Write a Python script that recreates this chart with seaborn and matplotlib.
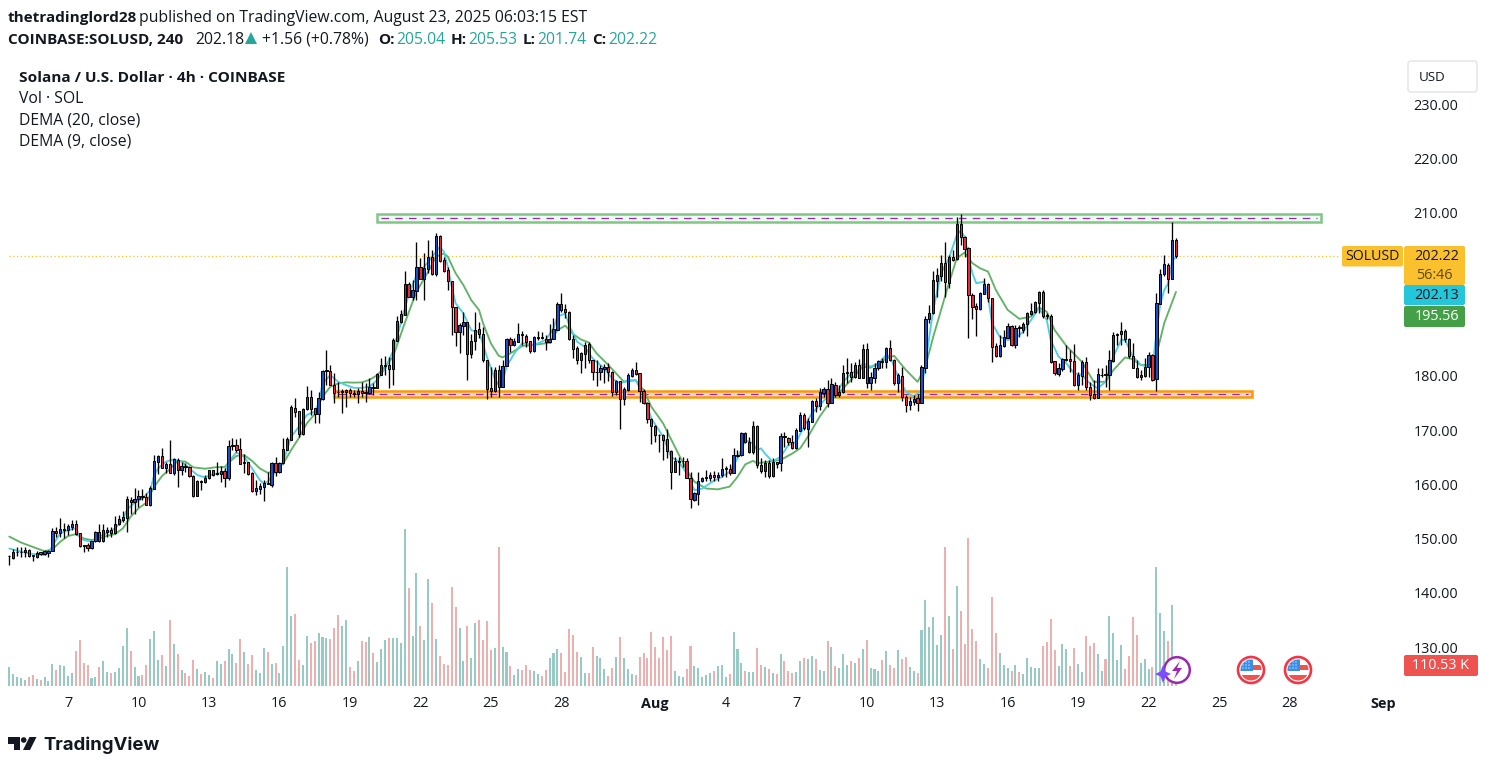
import numpy as np
import pandas as pd
import matplotlib
matplotlib.use("Agg")
import matplotlib.pyplot as plt
from matplotlib.patches import Rectangle, FancyBboxPatch, Circle, Polygon
import seaborn as sns

FONT = "Open Sans"
sns.set_theme(style="white")
plt.rcParams["font.family"] = [FONT, "DejaVu Sans"]

# ---------- candle data (USD) ----------
body_top = [
147.0,147.6,147.7,147.7,148.1,148.1,147.1,147.5,147.6,147.9,
147.9,151.5,151.45,151.9,151.9,152.4,152.75,152.75,151.1,148.9,
148.9,149.6,151.3,151.3,151.65,151.75,151.65,152.9,153.65,154.1,
157.4,157.15,157.35,157.9,158.0,157.7,159.45,164.4,165.35,165.25,
163.85,163.85,164.8,164.55,163.5,163.5,163.25,161.65,160.75,160.75,
161.2,162.7,162.7,162.15,162.5,162.5,167.1,167.35,167.3,166.55,
164.15,164.15,162.15,159.4,159.85,160.3,160.3,164.05,164.0,164.0,
166.6,168.45,174.3,174.15,173.55,174.0,176.15,176.15,174.1,175.95,
180.95,181.2,180.95,178.5,177.2,177.25,177.45,177.45,177.0,177.35,
177.35,177.05,178.0,178.05,180.4,182.05,182.1,182.05,186.7,190.2,
191.5,197.0,197.0,195.9,200.1,200.1,199.95,201.9,201.9,205.85,
205.85,201.45,199.6,197.55,192.7,189.45,190.0,190.0,186.5,188.5,
188.65,187.9,182.95,177.8,181.1,181.15,182.0,186.8,186.8,186.5,
187.75,187.75,187.45,186.45,187.2,187.2,187.2,186.95,186.95,188.65,
193.25,193.25,192.4,191.95,186.95,185.2,184.3,185.85,185.9,182.95,
180.9,181.5,181.65,181.65,180.75,179.1,179.1,177.6,180.2,181.1,
181.1,180.55,177.25,175.15,172.1,170.9,169.3,169.15,168.4,166.3,
164.45,164.4,164.45,164.35,161.35,158.5,160.8,161.3,161.45,161.9,
161.85,161.9,162.9,163.05,163.0,165.45,165.55,169.5,169.5,167.85,
170.85,170.85,163.7,164.0,164.0,164.15,164.15,169.0,169.0,168.7,
167.95,170.15,172.8,172.8,171.8,175.4,175.4,177.05,177.6,177.6,
178.55,178.4,177.2,180.55,180.75,180.75,182.05,182.05,185.05,185.05,
179.85,181.5,182.8,182.85,185.15,185.15,182.95,180.25,180.0,176.25,
175.45,175.85,175.95,181.75,190.5,191.6,197.7,198.6,200.85,200.85,
202.05,202.05,208.05,208.05,205.6,203.6,195.0,192.95,195.3,196.95,
196.95,194.4,185.6,185.7,187.2,189.3,189.3,188.85,189.05,189.6,
191.6,192.0,193.65,195.5,195.5,191.25,191.05,182.8,181.5,183.2,
183.15,183.15,182.9,180.25,182.65,182.6,178.0,176.7,180.4,180.3,
180.4,182.95,187.6,187.85,188.3,188.3,186.8,183.8,181.55,180.25,
181.8,183.95,183.9,193.45,198.85,200.65,200.5,205.1,205.04]

body_bottom = [
146.85,146.6,147.6,147.6,147.65,147.0,146.85,146.8,147.35,147.3,
147.4,147.9,151.1,151.2,151.75,151.7,152.2,150.95,148.8,148.75,
148.4,148.4,149.6,149.75,149.75,151.4,151.2,151.2,152.8,153.55,
153.95,156.9,156.85,157.35,157.7,156.35,156.35,159.3,164.3,163.2,
163.2,162.25,162.25,162.8,162.8,163.25,161.6,158.05,158.05,160.6,
160.6,161.2,161.9,162.0,162.1,161.2,161.2,167.25,166.5,163.9,
164.05,162.1,158.95,158.95,159.3,159.7,160.1,160.05,162.45,162.45,
164.0,166.5,168.35,173.5,169.45,169.45,174.0,174.05,173.1,173.1,
175.85,181.0,178.45,177.0,177.05,177.1,177.1,177.0,176.75,176.7,
177.0,176.95,177.0,177.9,177.9,180.3,181.95,181.4,181.4,186.55,
190.0,191.35,194.7,194.7,195.8,198.0,198.0,199.85,198.9,198.9,
201.3,199.45,197.5,192.7,188.1,188.1,189.3,184.2,184.2,186.45,
187.85,182.95,177.7,177.35,177.35,178.1,178.1,182.0,185.85,185.85,
186.4,187.55,186.3,184.75,184.75,187.05,187.05,186.3,186.3,186.95,
188.6,192.3,191.9,186.95,185.1,183.05,182.95,184.2,182.95,180.75,
180.8,180.85,181.3,180.75,177.2,177.2,175.9,175.9,177.5,180.1,
180.5,177.25,175.15,172.1,170.9,169.3,169.2,168.25,166.3,162.45,
162.45,164.3,164.35,161.35,157.35,157.3,158.4,160.7,161.3,161.3,
161.45,161.45,161.85,162.95,162.25,162.2,165.4,165.5,167.85,166.15,
166.15,163.65,162.65,162.65,161.7,161.7,163.95,164.1,168.9,167.95,
166.75,166.75,170.0,170.45,170.4,171.65,174.6,174.6,177.0,175.15,
175.15,176.6,176.6,177.05,180.65,179.95,179.95,179.75,179.75,178.85,
178.85,179.75,181.5,182.7,182.7,182.95,178.85,178.85,176.25,174.8,
174.8,175.35,175.15,175.15,181.6,190.5,191.6,197.55,198.5,197.4,
197.15,201.45,201.55,205.6,203.55,194.9,192.85,192.5,192.4,195.25,
194.4,185.5,183.8,183.8,185.6,187.15,185.7,185.7,188.85,188.6,
189.6,191.55,191.8,193.5,191.2,191.1,182.65,180.7,180.4,181.3,
183.0,182.9,178.4,178.4,180.15,178.0,176.65,176.0,176.1,180.2,
180.2,180.2,182.85,187.55,187.8,186.8,183.75,181.5,179.95,179.95,
180.1,181.75,179.4,179.5,193.4,198.85,198.0,198.0,202.22]

highs = [
147.1,148.3,148.5,148.5,148.6,148.3,147.2,147.9,147.7,148.1,
148.1,152.0,152.2,153.9,153.05,152.9,153.5,153.5,151.2,148.9,
149.4,149.75,151.6,152.8,152.8,152.3,152.3,154.2,154.45,155.25,
158.0,157.85,159.4,159.05,159.2,158.45,159.8,165.5,165.5,166.75,
164.3,168.3,164.9,164.9,164.3,164.1,163.5,161.85,160.9,160.9,
161.85,162.75,162.75,164.3,163.5,163.05,168.3,168.6,168.4,168.6,
165.8,164.3,162.45,160.9,160.3,160.9,162.45,164.3,165.2,164.3,
168.6,168.9,174.7,175.95,173.7,174.1,178.25,177.5,174.1,177.2,
181.2,184.85,182.1,180.55,179.0,177.6,177.6,177.8,177.5,177.9,
179.0,178.7,179.65,178.7,180.55,183.3,183.75,183.65,187.0,191.1,
192.2,199.4,197.45,197.75,204.7,201.75,202.65,205.1,203.25,206.35,
206.05,202.05,200.2,197.6,192.85,189.75,191.9,190.05,187.9,191.9,
190.05,189.15,183.0,181.8,181.8,182.1,183.0,187.0,187.3,187.0,
189.9,188.4,187.9,186.55,187.45,188.4,188.2,187.6,189.65,190.7,
193.75,195.3,193.3,192.1,187.55,185.65,184.55,186.4,186.4,183.05,
183.0,182.1,182.3,182.4,181.05,179.3,179.2,178.1,180.55,181.5,
182.7,180.7,177.6,175.3,172.25,171.05,169.4,169.4,170.4,166.45,
165.2,165.2,165.1,164.9,162.45,158.75,162.45,161.5,162.75,162.45,
162.6,162.45,164.9,163.5,163.85,166.75,166.4,169.8,169.8,168.9,
171.75,171.05,164.9,164.6,164.6,164.9,164.3,169.5,169.8,168.9,
169.2,170.45,173.5,173.2,172.25,175.65,175.95,177.8,178.1,179.35,
179.65,179.0,178.4,182.1,183.3,182.4,182.7,183.15,185.95,186.1,
180.9,182.4,183.0,183.3,185.5,186.7,183.15,180.55,181.8,176.55,
176.25,176.55,176.85,182.1,191.1,193.15,199.4,199.9,202.35,204.8,
202.35,203.3,209.3,209.9,205.85,203.9,195.3,193.45,195.6,198.05,
197.15,194.5,186.1,187.6,188.55,189.8,189.45,189.45,189.45,190.1,
191.9,193.45,193.95,195.8,195.9,191.6,191.5,182.9,182.4,183.3,
185.8,184.85,185.95,180.9,183.0,183.6,179.0,179.35,181.5,181.5,
182.1,184.85,188.25,188.05,189.95,188.65,187.0,186.1,183.0,181.2,
183.3,184.55,184.1,195.4,199.8,202.35,200.8,208.4,205.53]

lows = [
145.3,146.4,146.9,146.8,146.8,146.8,146.05,146.55,147.1,147.1,
146.7,147.9,150.35,150.5,150.2,150.8,151.7,150.85,148.5,147.65,
147.9,148.3,149.5,149.5,149.5,150.35,150.5,151.0,152.6,153.25,
151.4,154.75,154.75,156.0,157.25,156.25,156.1,159.2,162.0,163.2,
162.15,162.15,161.9,159.7,161.85,162.45,161.4,157.85,158.0,159.05,
160.3,161.05,161.65,161.85,160.6,159.7,160.9,166.45,166.15,163.85,
162.25,161.9,158.75,158.15,158.35,157.1,160.1,159.7,161.65,162.25,
163.85,166.45,168.3,172.6,168.9,169.2,173.8,172.9,171.35,171.35,
175.65,178.4,178.4,175.05,176.25,173.3,174.4,176.25,176.25,175.05,
176.25,175.2,176.75,176.55,177.8,180.25,180.25,177.8,178.4,186.55,
189.9,191.25,194.55,194.05,194.05,197.85,194.05,199.0,198.65,198.5,
201.1,199.3,195.9,187.7,185.6,184.25,187.6,179.3,183.3,184.85,
187.0,182.7,175.75,176.15,177.2,176.25,178.0,181.9,184.55,185.6,
186.25,185.75,185.45,184.35,184.55,186.7,186.8,184.85,186.2,186.8,
188.5,191.9,190.7,186.7,183.3,182.25,180.65,181.5,182.4,179.3,
178.3,179.3,178.7,179.2,176.4,176.55,170.35,174.7,177.35,179.95,
180.25,175.35,174.9,171.35,167.5,167.95,166.15,164.6,164.9,159.2,
162.45,161.85,163.35,161.2,155.85,157.1,156.35,160.6,160.8,160.8,
160.8,160.8,161.5,161.4,161.85,162.15,165.2,165.3,167.65,165.95,
165.8,163.05,162.25,161.55,161.2,161.55,163.05,162.65,167.05,167.35,
166.65,166.55,169.9,170.15,167.05,171.55,173.5,173.8,176.25,174.3,
175.05,176.25,176.25,176.9,178.7,179.0,179.65,179.65,179.65,177.8,
177.5,178.7,181.15,181.5,181.5,182.9,178.4,177.2,175.5,173.5,
173.8,174.75,173.7,175.05,180.7,189.8,191.5,194.7,197.65,194.7,
196.2,201.3,201.45,204.2,201.95,187.0,190.5,187.5,192.2,195.1,
193.75,182.7,183.5,183.65,185.5,187.0,185.65,185.3,187.3,188.05,
187.45,191.3,191.6,191.75,190.7,190.5,182.4,180.25,180.15,181.05,
182.9,180.9,178.3,177.5,178.4,177.5,175.65,175.85,175.95,179.95,
178.1,177.5,182.6,185.8,185.8,186.4,183.45,181.5,179.65,179.35,
179.95,179.95,179.2,177.4,193.3,198.5,195.3,197.9,201.74]

# T = close above open, P = close below open
direction = "".join([
"TTTTTPPTPT","TTPTTTTPPP","PTTPTTPTTT","TPTTPPTTTP","TPTPTPPPTP",
"TTPTTPTTPP","TPPTTTPTPT","TTTPPTTPPT","TTPPPTTPPT","PPTPTTTPTT",
"TTPTTPTTPT","PPPPPTTPTT","PPPPTPTTPT","TPPPTTPPTT","TPPPPPTTPP",
"TTTPPTPTTT","PPPPPPPPPP","TTTPPTTTTT","PTTTPTTTPT","TPPTPTPTPP",
"PTTPTTPTTP","TPTTTPTPTP","TTTPTPPTPP","TTPTTTTTTP","TPTPPPPPTT",
"PPPTTTPTPT","TTTTPPPPTT","TPPTTPPPTT","PTTTTPPPPT","TTPTTTPTP"])

# volume, thousands of SOL
volume_k = [
1026,648,486,432,324,486,594,378,324,486,
270,1188,864,1134,1080,540,702,1890,2484,1242,
1134,432,486,1026,1350,756,702,756,972,2160,
3132,1890,1026,540,594,1134,2538,2970,1404,1674,
1080,3564,2268,1728,864,702,540,1404,918,648,
756,594,432,1350,1188,1350,1998,1728,1242,2538,
1836,1188,1674,864,702,2052,1836,1188,1242,702,
2160,6426,3780,3888,1404,1134,2700,2322,2430,2862,
2646,2592,2538,3132,3834,3240,3564,1026,810,1350,
2430,2376,2646,1782,1296,1998,2484,2592,2592,2592,
2322,8478,5292,2700,6102,3240,2484,5778,4482,2538,
1620,1188,1134,5346,4266,3132,1350,3240,1512,3402,
3564,2484,3510,1944,2052,7506,2106,1836,1080,594,
918,864,1134,864,810,648,540,864,1512,1782,
1998,1782,756,3078,2754,1836,1566,702,702,2106,
1620,1512,918,540,972,1566,2646,1512,918,648,
594,1566,1782,1512,2916,2106,1512,2646,1944,2700,
810,540,486,918,2160,1080,972,486,594,702,
810,1080,1134,486,648,2916,1998,1242,810,756,
756,2052,1134,1026,918,702,648,1728,1350,810,
702,756,1350,1512,1458,1620,1458,864,810,2430,
2106,1080,972,1728,1134,1350,1242,1512,1998,2484,
972,918,810,1404,1890,1134,972,1944,1458,1566,
1026,810,702,3024,4644,3186,3726,2214,2754,7506,
3780,1998,5400,4050,2268,7992,3078,2430,1458,1188,
972,4806,2862,1782,1134,972,810,1134,756,648,
1512,1026,972,972,2160,2376,3618,1944,1080,2268,
1998,1080,2052,1188,756,2700,2160,2322,1728,810,
1458,3780,2862,1404,2214,918,1620,3726,2754,1242,
1458,918,1026,6426,3942,2970,2430,4374,110.53]

# DEMA readings at the listed candles
dema20_at = [0,3,6,9,11,13,15,17,19,21,23,25,27,29,31,33,35,37,39,41,43,45,47,50,53,55,56,58,60,62,64,66,68,70,72,74,76,78,80,82,84,86,88,90,92,94,96,98,
101,104,107,109,111,112,114,116,118,120,121,123,125,126,128,131,134,138,140,142,144,146,148,150,153,155,157,160,162,164,167,170,173,175,178,181,184,186,188,190,191,
197,200,202,204,207,210,212,215,218,220,222,224,226,229,232,234,236,238,240,242,244,246,248,250,252,255,258,261,263,265,267,270,274,277,280,282,285,287,289,292,293,295,298]
dema20 = [150.5,149.4,148.6,147.8,148.15,149.55,150.6,150.95,150.15,149.85,150.15,150.65,150.95,152.0,154.15,155.7,156.75,159.7,161.65,162.9,164.45,164.3,163.25,163.0,163.3,163.3,164.1,165.35,165.5,164.45,163.05,162.25,162.6,164.0,166.45,168.7,171.35,173.05,176.25,178.1,178.7,178.9,178.85,178.9,179.35,180.25,181.8,183.6,
189.8,195.6,199.3,202.05,202.65,202.05,199.0,196.8,194.05,192.2,189.8,186.1,183.8,183.5,184.25,185.6,185.8,186.2,188.5,189.35,187.8,186.8,186.25,184.25,182.1,180.55,179.0,179.3,177.5,174.4,171.35,167.05,162.75,160.6,159.35,159.2,159.7,161.5,163.8,164.45,164.0,
164.6,165.8,166.75,168.9,172.6,175.65,177.0,179.35,181.8,181.6,182.4,183.3,183.8,181.2,179.0,181.8,187.3,192.25,197.15,201.75,202.8,200.85,199.9,199.3,195.9,192.25,190.6,191.0,192.7,191.9,188.55,185.6,182.65,179.0,179.0,181.15,183.5,183.15,182.1,182.1,183.95,189.8,195.56]

dema9_at = [0,3,6,9,10,11,12,13,15,17,18,19,21,23,25,27,29,30,32,34,36,37,38,40,42,44,46,48,50,52,54,55,56,58,60,62,64,65,66,68,70,72,74,76,78,79,80,82,84,86,88,90,92,94,96,98,
100,102,104,106,108,110,111,112,113,114,116,118,120,122,124,125,126,127,129,131,134,137,139,140,142,143,145,147,149,152,154,156,158,160,162,164,167,169,171,173,175,177,180,182,184,186,188,190,191,
192,193,195,197,199,201,203,205,207,209,211,213,215,217,218,220,222,224,225,227,229,231,233,234,236,238,240,242,243,244,245,246,247,249,250,251,253,255,257,259,261,263,265,266,268,270,272,274,276,278,280,282,284,285,287,289,291,292,293,294,295,296,297,298]
dema9 = [148.3,147.7,147.3,147.1,147.7,148.65,150.0,151.1,151.7,152.0,150.5,149.85,149.55,150.5,151.2,152.0,153.55,155.4,156.75,157.5,159.05,161.8,163.05,164.3,164.7,164.3,163.05,161.85,161.4,162.0,162.15,162.45,164.3,166.0,165.2,163.05,160.9,160.3,160.6,162.45,164.3,168.9,170.75,172.9,173.5,175.0,178.7,180.25,179.0,178.4,177.9,177.9,178.1,179.35,181.5,184.6,
189.8,195.0,198.65,200.2,202.0,203.9,202.95,200.2,196.5,193.45,191.6,188.5,188.2,183.6,179.6,178.4,179.0,181.8,184.25,186.1,185.8,186.7,188.85,191.0,191.6,189.45,186.4,185.45,183.3,181.5,179.6,178.7,179.3,179.3,176.55,172.25,168.9,165.2,164.3,162.15,159.05,159.35,160.8,161.5,162.45,164.9,168.3,167.65,166.4,
166.75,165.8,164.3,165.2,167.35,167.95,170.75,173.2,174.7,176.25,176.6,179.0,180.55,181.2,182.4,181.8,182.4,183.95,183.65,179.95,177.2,176.25,177.5,182.4,192.25,199.0,201.75,206.0,206.85,205.75,202.05,199.0,197.15,197.45,194.7,189.8,187.3,186.7,187.0,188.25,190.4,192.55,190.4,186.7,183.65,182.4,180.55,180.25,178.7,177.8,179.0,183.65,186.7,186.7,183.65,182.1,181.8,181.8,187.9,193.45,195.9,197.15,201.1,202.13]

# key levels, USD
resistance_zone = (208.4, 209.9)
support_zone = (176.15, 177.4)
last_price = 202.22

shown_price_ticks = [130, 140, 150, 160, 170, 180, 210, 220, 230]
date_positions = [15, 33, 51, 69, 87, 105, 123, 141, 165, 183, 201, 219, 237, 255, 273, 291, 309, 327, 351]
date_labels = ["7", "10", "13", "16", "19", "22", "25", "28", "Aug", "4", "7", "10", "13", "16", "19", "22", "25", "28", "Sep"]

# ---------- styles ----------
UP = "#1d4fc4"; DOWN = "#e92a3a"
VOL_UP = "#8ed2cb"; VOL_DOWN = "#f8a5a5"
GREEN = "#62b368"; CYAN = "#4dd0e1"
W, H = 1492, 768
PX_PER_CANDLE = 3.915; X0 = 9.3
PX_PER_USD = 5.43; Y210 = 213.5

fig = plt.figure(figsize=(W / 100, H / 100), dpi=100, facecolor="white")

# volume pane, same frame as the price pane
vax = fig.add_axes([0, 0, 1, 1], zorder=1)
vol_df = pd.DataFrame({"i": np.arange(len(volume_k)), "v": volume_k, "d": list(direction)})
sns.barplot(data=vol_df, x="i", y="v", hue="d", palette={"T": VOL_UP, "P": VOL_DOWN},
            native_scale=True, dodge=False, width=0.52, linewidth=0, legend=False, ax=vax)
vax.set_ylim(-(H - 685.5) * 54, 685.5 * 54)

ax = fig.add_axes([0, 0, 1, 1], zorder=2)
ax.patch.set_alpha(0)
idx = np.arange(len(highs))
up = np.array([c == "T" for c in direction])
top = np.array(body_top); bot = np.array(body_bottom)

# zones
for (lo, hi), x0, x1, edge, fill in [
    (resistance_zone, 94, 335, "#81c784", "#eefaf5"),
    (support_zone, 83, 317.4, "#ff9800", "#f6d5e2")]:
    ax.add_patch(Rectangle((x0, lo), x1 - x0, hi - lo, facecolor=fill, edgecolor=edge, linewidth=1.8, zorder=1))
    ax.plot([x0 + 1, x1 - 1], [(lo + hi) / 2] * 2, color="#9c27b0", lw=0.9, dashes=(6, 5), zorder=1.5)

ax.plot([0, 340], [last_price, last_price], color="#fbc02d", lw=0.9, ls=(0, (1, 2)), zorder=1.6)

sns.lineplot(x=dema20_at, y=dema20, color=GREEN, lw=1.35, ax=ax, zorder=2, errorbar=None, estimator=None)
sns.lineplot(x=dema9_at, y=dema9, color=CYAN, lw=1.35, ax=ax, zorder=2.1, errorbar=None, estimator=None)

ax.vlines(idx, lows, highs, color="black", lw=0.95, zorder=3)
ax.bar(idx, top - bot, bottom=bot, width=0.58,
       color=[UP if u else DOWN for u in up], edgecolor="black", linewidth=0.7, zorder=4)

for a in (ax, vax):
    a.set_xlim(-X0 / PX_PER_CANDLE, (W - X0) / PX_PER_CANDLE)
    a.axis("off")
ax.set_ylim(210 - (H - Y210) / PX_PER_USD, 210 + Y210 / PX_PER_USD)

# overlay in pixel units for the chrome
ov = fig.add_axes([0, 0, 1, 1], zorder=3)
ov.set_xlim(0, W); ov.set_ylim(H, 0); ov.axis("off"); ov.patch.set_alpha(0)
DARK = "#131722"
BOLD = 10.95
REG = 11.35

def txt(x, y, s, size=10.4, color=DARK, weight="normal", ha="left", **kw):
    return ov.text(x, y + 1.3, s, fontsize=size, color=color, fontweight=weight, ha=ha, va="center", **kw)

def box(x0, y0, x1, y1, fc, ec="none", r=2, lw=0):
    ov.add_patch(FancyBboxPatch((x0 + r, y0 + r), x1 - x0 - 2 * r, y1 - y0 - 2 * r,
                                boxstyle=f"round,pad={r},rounding_size={r}", fc=fc, ec=ec, lw=lw))

# header
txt(8, 16.5, "thetradinglord28", weight="bold", size=BOLD)
txt(139, 16.5, "published on TradingView.com, August 23, 2025 06:03:15 EST", size=REG)
txt(8, 38.5, "COINBASE:SOLUSD, 240", weight="bold", size=BOLD)
txt(195, 38.5, "202.18", size=REG)
ov.add_patch(Polygon([(245, 44), (257, 44), (251, 32)], fc="#26a69a", ec="none"))
txt(262, 38.5, "+1.56 (+0.78%)", size=REG)
TEAL = "#26a69a"
for xl, l, xv, v in [(378, "O:", 396, "205.04"), (451, "H:", 468, "205.53"), (523, "L:", 537, "201.74"), (592, "C:", 608, "202.22")]:
    txt(xl, 38.5, l, weight="bold", size=BOLD)
    txt(xv, 38.5, v, color=TEAL, size=REG)

# legend
txt(19, 77, "Solana / U.S. Dollar · 4h · COINBASE", weight="bold", size=11.05)
txt(19, 98, "Vol · SOL", size=REG)
txt(19, 119, "DEMA (20, close)", size=REG)
txt(19, 140, "DEMA (9, close)", size=REG)

# price scale
for p in shown_price_ticks:
    txt(1436, Y210 + (210 - p) * PX_PER_USD, f"{p:.2f}", ha="center", size=10.4)

box(1408, 61, 1477, 92, "white", ec="#e0e3eb", r=3, lw=1)
txt(1432, 76, "USD", ha="center", size=9.6)

# price tags
box(1342, 246, 1403, 266.5, "#fbc02d", r=2)
txt(1372, 255.5, "SOLUSD", ha="center", size=10.2)
box(1404, 246, 1465, 285, "#fbc02d", r=2)
txt(1437, 255.5, "202.22", ha="center", size=10.4)
txt(1434, 274, "56:46", ha="center", size=10.4, color="#5d4a10")
box(1404, 285, 1465, 305, "#26c6da", r=2)
txt(1437, 294, "202.13", ha="center", size=10.4)
box(1404, 306, 1465, 327, "#43a047", r=2)
txt(1437, 315.5, "195.56", ha="center", size=10.4, color="white")
box(1404, 655, 1478, 676, "#ef5350", r=2)
txt(1441, 664.5, "110.53 K", ha="center", size=10.4, color="white")

# date scale
for i, lab in zip(date_positions, date_labels):
    px = X0 + PX_PER_CANDLE * i
    txt(px, 702.5, lab, ha="center", size=10.4, weight="bold" if lab in ("Aug", "Sep") else "normal")

# event marks
for cx in (1251, 1298):
    clip = Circle((cx, 670), 10.5, transform=ov.transData)
    ov.add_patch(Circle((cx, 670), 13, fc="white", ec="#f23645", lw=1.9))
    for art in (
        ov.add_patch(Rectangle((cx + 2, 664.5), 10, 5, fc="#ef5350", ec="none")),
        ov.add_patch(Rectangle((cx - 12, 675), 24, 10, fc="#ef5350", ec="none")),
        ov.add_patch(Rectangle((cx - 11, 659), 13, 12, fc="#3a8ee6", ec="none")),
    ):
        art.set_clip_path(clip)
    for dx in (-8, -5, -2):
        for dy in (-8, -5, -2):
            ov.add_patch(Circle((cx + dx, 670 + dy), 0.6, fc="white", ec="none"))
ov.add_patch(Circle((1177, 670), 12.8, fc="white", ec="#9c27b0", lw=1.8))
ov.add_patch(Polygon([(1180, 661), (1172, 671), (1177, 671), (1174, 679), (1182, 668), (1177, 668)], fc="#9c27b0", ec="none"))
ov.add_patch(Polygon([(1163, 665), (1165.5, 671.5), (1171, 674), (1165.5, 676.5), (1163, 683), (1160.5, 676.5), (1155, 674), (1160.5, 671.5)], fc="#7c4dff", ec="none"))

# brand
ov.add_patch(Polygon([(8, 737), (20, 737), (20, 750), (14, 750), (14, 743.5), (8, 743.5)], fc=DARK, ec="none"))
ov.add_patch(Circle((23.7, 740), 2.8, fc=DARK, ec="none"))
ov.add_patch(Polygon([(29.5, 737), (36.5, 737), (30, 750), (23, 750)], fc=DARK, ec="none"))
ov.text(43, 745, "TradingView", fontsize=13.4, color=DARK, fontweight="bold", family=["Inter", "Open Sans"], ha="left", va="center")

fig.savefig("out.png", dpi=100, facecolor="white")
